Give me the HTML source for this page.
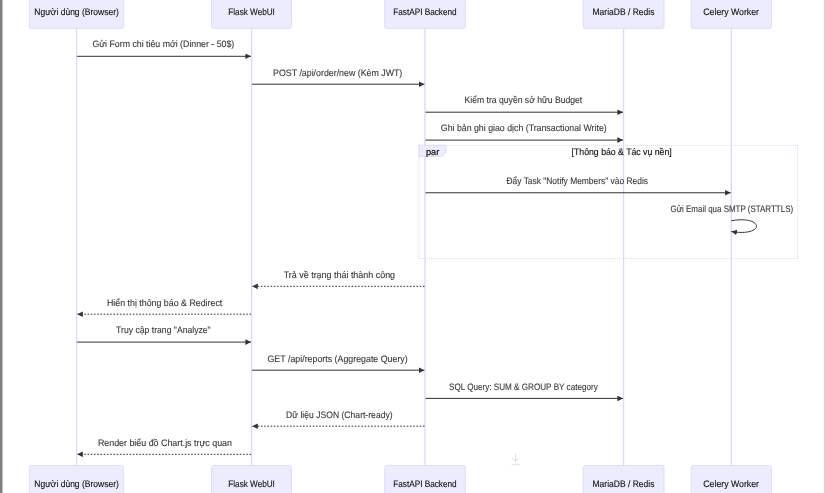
<!DOCTYPE html>
<html><head><meta charset="utf-8"><style>
html,body{margin:0;padding:0;background:#fff;width:825px;height:493px;overflow:hidden}
svg{display:block;font-family:"Liberation Sans",sans-serif;will-change:transform;text-rendering:geometricPrecision}
</style></head><body>
<svg width="825" height="493" viewBox="0 0 825 493">
<defs>
<marker id="ah" markerUnits="userSpaceOnUse" markerWidth="8" markerHeight="8" refX="5.6" refY="2.8" orient="auto"><path d="M0,0 L5.6,2.8 L0,5.6 z" fill="#333"/></marker>
</defs>
<rect x="0" y="0" width="825" height="493" fill="#fff"/>

<rect x="0" y="0" width="2" height="493" fill="#7f7f7f"/><rect x="2" y="0" width="1" height="493" fill="#c4c4c4"/><rect x="3" y="0" width="1" height="493" fill="#f8f8f8"/>
<rect x="823.8" y="0" width="1.2" height="493" fill="#d4d4d4"/>
<line x1="76.6" y1="28" x2="76.6" y2="465" stroke="#DDD6F6" stroke-width="1.3"/>
<line x1="251.6" y1="28" x2="251.6" y2="465" stroke="#DDD6F6" stroke-width="1.3"/>
<line x1="425.0" y1="28" x2="425.0" y2="465" stroke="#DDD6F6" stroke-width="1.3"/>
<line x1="623.6" y1="28" x2="623.6" y2="465" stroke="#DDD6F6" stroke-width="1.3"/>
<line x1="731.3" y1="28" x2="731.3" y2="465" stroke="#DDD6F6" stroke-width="1.3"/>
<g fill="none" stroke="#DDD6F6" stroke-width="1" stroke-dasharray="1,1"><path d="M419,145.4 H798"/><path d="M419,258.4 H798"/><path d="M418.9,146 V259"/><path d="M797.6,146 V259"/></g>
<polygon points="418.9,145.3 446,145.3 446,152.4 441.7,156.4 418.9,156.4" fill="#ECECFF" stroke="#DDD6F6" stroke-width="0.8"/>
<text x="432.6" y="155" font-size="9.2" fill="#000" stroke="#000" stroke-width="0.15" text-anchor="middle">par</text>
<text x="621.65" y="155.1" font-size="9.4" fill="#111" stroke="#111" stroke-width="0.15" text-anchor="middle" textLength="100.1" lengthAdjust="spacingAndGlyphs">[Thông báo &amp; Tác vụ nền]</text>
<rect x="29.3" y="-6.8" width="94.4" height="35.2" rx="2" fill="#ECECFF" stroke="#DDD6F6" stroke-width="0.8"/>
<text x="76.55" y="14.9" font-size="9.4" fill="#111" stroke="#111" stroke-width="0.12" text-anchor="middle" textLength="84.5" lengthAdjust="spacingAndGlyphs">Người dùng (Browser)</text>
<rect x="29.3" y="465.5" width="94.4" height="35.2" rx="2" fill="#ECECFF" stroke="#DDD6F6" stroke-width="0.8"/>
<text x="76.55" y="487.1" font-size="9.4" fill="#111" stroke="#111" stroke-width="0.12" text-anchor="middle" textLength="84.5" lengthAdjust="spacingAndGlyphs">Người dùng (Browser)</text>
<rect x="211.5" y="-6.8" width="80.0" height="35.2" rx="2" fill="#ECECFF" stroke="#DDD6F6" stroke-width="0.8"/>
<text x="251.6" y="14.9" font-size="9.4" fill="#111" stroke="#111" stroke-width="0.12" text-anchor="middle" textLength="46.6" lengthAdjust="spacingAndGlyphs">Flask WebUI</text>
<rect x="211.5" y="465.5" width="80.0" height="35.2" rx="2" fill="#ECECFF" stroke="#DDD6F6" stroke-width="0.8"/>
<text x="251.6" y="487.1" font-size="9.4" fill="#111" stroke="#111" stroke-width="0.12" text-anchor="middle" textLength="46.6" lengthAdjust="spacingAndGlyphs">Flask WebUI</text>
<rect x="384.7" y="-6.8" width="80.7" height="35.2" rx="2" fill="#ECECFF" stroke="#DDD6F6" stroke-width="0.8"/>
<text x="424.95" y="14.9" font-size="9.4" fill="#111" stroke="#111" stroke-width="0.12" text-anchor="middle" textLength="63.5" lengthAdjust="spacingAndGlyphs">FastAPI Backend</text>
<rect x="384.7" y="465.5" width="80.7" height="35.2" rx="2" fill="#ECECFF" stroke="#DDD6F6" stroke-width="0.8"/>
<text x="424.95" y="487.1" font-size="9.4" fill="#111" stroke="#111" stroke-width="0.12" text-anchor="middle" textLength="63.5" lengthAdjust="spacingAndGlyphs">FastAPI Backend</text>
<rect x="583.3" y="-6.8" width="80.7" height="35.2" rx="2" fill="#ECECFF" stroke="#DDD6F6" stroke-width="0.8"/>
<text x="623.45" y="14.9" font-size="9.4" fill="#111" stroke="#111" stroke-width="0.12" text-anchor="middle" textLength="61.9" lengthAdjust="spacingAndGlyphs">MariaDB / Redis</text>
<rect x="583.3" y="465.5" width="80.7" height="35.2" rx="2" fill="#ECECFF" stroke="#DDD6F6" stroke-width="0.8"/>
<text x="623.45" y="487.1" font-size="9.4" fill="#111" stroke="#111" stroke-width="0.12" text-anchor="middle" textLength="61.9" lengthAdjust="spacingAndGlyphs">MariaDB / Redis</text>
<rect x="691.2" y="-6.8" width="80.4" height="35.2" rx="2" fill="#ECECFF" stroke="#DDD6F6" stroke-width="0.8"/>
<text x="731.15" y="14.9" font-size="9.4" fill="#111" stroke="#111" stroke-width="0.12" text-anchor="middle" textLength="55.7" lengthAdjust="spacingAndGlyphs">Celery Worker</text>
<rect x="691.2" y="465.5" width="80.4" height="35.2" rx="2" fill="#ECECFF" stroke="#DDD6F6" stroke-width="0.8"/>
<text x="731.15" y="487.1" font-size="9.4" fill="#111" stroke="#111" stroke-width="0.12" text-anchor="middle" textLength="55.7" lengthAdjust="spacingAndGlyphs">Celery Worker</text>
<text x="163.35" y="47" font-size="9.4" fill="#333" stroke="#444" stroke-width="0.1" text-anchor="middle" textLength="141.9" lengthAdjust="spacingAndGlyphs">Gửi Form chi tiêu mới (Dinner - 50$)</text>
<line x1="77.10" y1="56.3" x2="251.00" y2="56.3" stroke="#333" stroke-width="1.0" marker-end="url(#ah)"/>
<text x="337.7" y="76" font-size="9.4" fill="#333" stroke="#444" stroke-width="0.1" text-anchor="middle" textLength="129.2" lengthAdjust="spacingAndGlyphs">POST /api/order/new (Kèm JWT)</text>
<line x1="252.10" y1="84.2" x2="424.40" y2="84.2" stroke="#333" stroke-width="1.0" marker-end="url(#ah)"/>
<text x="523.4" y="103" font-size="9.4" fill="#333" stroke="#444" stroke-width="0.1" text-anchor="middle" textLength="117.6" lengthAdjust="spacingAndGlyphs">Kiểm tra quyền sở hữu Budget</text>
<line x1="425.50" y1="112.2" x2="623.00" y2="112.2" stroke="#333" stroke-width="1.0" marker-end="url(#ah)"/>
<text x="523.75" y="131" font-size="9.4" fill="#333" stroke="#444" stroke-width="0.1" text-anchor="middle" textLength="165.9" lengthAdjust="spacingAndGlyphs">Ghi bản ghi giao dịch (Transactional Write)</text>
<line x1="425.50" y1="140.1" x2="623.00" y2="140.1" stroke="#333" stroke-width="1.0" marker-end="url(#ah)"/>
<text x="577.25" y="184" font-size="9.4" fill="#333" stroke="#444" stroke-width="0.1" text-anchor="middle" textLength="141.5" lengthAdjust="spacingAndGlyphs">Đẩy Task "Notify Members" vào Redis</text>
<line x1="425.50" y1="192.75" x2="730.70" y2="192.75" stroke="#333" stroke-width="1.0" marker-end="url(#ah)"/>
<text x="339.4" y="278" font-size="9.4" fill="#333" stroke="#444" stroke-width="0.1" text-anchor="middle" textLength="111.4" lengthAdjust="spacingAndGlyphs">Trả về trạng thái thành công</text>
<line x1="424.50" y1="286.3" x2="252.20" y2="286.3" stroke="#333" stroke-width="1.0" stroke-dasharray="1.62,1.62" marker-end="url(#ah)"/>
<text x="164.6" y="306" font-size="9.4" fill="#333" stroke="#444" stroke-width="0.1" text-anchor="middle" textLength="115.4" lengthAdjust="spacingAndGlyphs">Hiển thị thông báo &amp; Redirect</text>
<line x1="251.10" y1="314.2" x2="77.20" y2="314.2" stroke="#333" stroke-width="1.0" stroke-dasharray="1.62,1.62" marker-end="url(#ah)"/>
<text x="163.4" y="333" font-size="9.4" fill="#333" stroke="#444" stroke-width="0.1" text-anchor="middle" textLength="94.6" lengthAdjust="spacingAndGlyphs">Truy cập trang "Analyze"</text>
<line x1="77.10" y1="342.1" x2="251.00" y2="342.1" stroke="#333" stroke-width="1.0" marker-end="url(#ah)"/>
<text x="337.6" y="362" font-size="9.4" fill="#333" stroke="#444" stroke-width="0.1" text-anchor="middle" textLength="140.2" lengthAdjust="spacingAndGlyphs">GET /api/reports (Aggregate Query)</text>
<line x1="252.10" y1="370.2" x2="424.40" y2="370.2" stroke="#333" stroke-width="1.0" marker-end="url(#ah)"/>
<text x="523.35" y="390" font-size="9.4" fill="#333" stroke="#444" stroke-width="0.1" text-anchor="middle" textLength="148.7" lengthAdjust="spacingAndGlyphs">SQL Query: SUM &amp; GROUP BY category</text>
<line x1="425.50" y1="398.4" x2="623.00" y2="398.4" stroke="#333" stroke-width="1.0" marker-end="url(#ah)"/>
<text x="339.35" y="418" font-size="9.4" fill="#333" stroke="#444" stroke-width="0.1" text-anchor="middle" textLength="106.5" lengthAdjust="spacingAndGlyphs">Dữ liệu JSON (Chart-ready)</text>
<line x1="424.50" y1="426.2" x2="252.20" y2="426.2" stroke="#333" stroke-width="1.0" stroke-dasharray="1.62,1.62" marker-end="url(#ah)"/>
<text x="164.95" y="446" font-size="9.4" fill="#333" stroke="#444" stroke-width="0.1" text-anchor="middle" textLength="134.1" lengthAdjust="spacingAndGlyphs">Render biểu đồ Chart.js trực quan</text>
<line x1="251.10" y1="454.3" x2="77.20" y2="454.3" stroke="#333" stroke-width="1.0" stroke-dasharray="1.62,1.62" marker-end="url(#ah)"/>
<text x="731.8" y="212.0" font-size="9.4" fill="#333" stroke="#444" stroke-width="0.1" text-anchor="middle" textLength="122.6" lengthAdjust="spacingAndGlyphs">Gửi Email qua SMTP (STARTTLS)</text>
<path d="M731.3,220.7 C764.9,215.1 764.9,237.1 731.3,231.5" fill="none" stroke="#333" stroke-width="1.0" marker-end="url(#ah)"/>
<g stroke="#d8d8d8" stroke-width="0.9" fill="none" stroke-linecap="round"><path d="M515.5,454.2 V461.3 M512.2,458.3 L515.5,461.4 L518.9,458.3"/><path d="M511.8,464.3 H519.7"/></g>
</svg></body></html>
